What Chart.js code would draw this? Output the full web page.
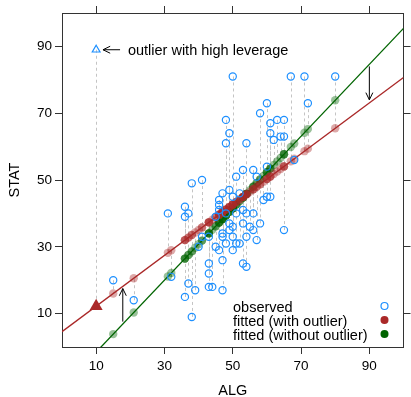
<!doctype html>
<html lang="en">
  <head>
    <meta charset="utf-8">
    <title>STAT vs ALG</title>
    <style>
      * { margin: 0; padding: 0; }
      body { background: #fff; width: 411px; height: 397px; overflow: hidden; }
      #chart { display: block; }
    </style>
  </head>
  <body>
    <canvas id="chart" width="411" height="397"></canvas>
    <script src="https://cdn.jsdelivr.net/npm/chart.js"></script>
    <script>
    // observed scores (without the outlier)
    const alg = [50, 67, 71, 80, 60, 72, 58, 48, 63, 65, 61, 49, 61, 64, 65, 62, 48, 54, 68, 60,
                 53, 56, 51, 57, 41, 38, 49, 47, 52, 50, 60, 61, 59, 46, 46, 36, 46, 53, 31, 37,
                 48, 51, 54, 56, 45, 36, 58, 53, 49, 55, 50, 56, 49, 65, 47, 41, 43, 47, 50, 54,
                 57, 52, 51, 48, 40, 45, 46, 50, 47, 43, 53, 54, 43, 32, 15, 37, 43, 44, 39, 47,
                 36, 21, 38];
    const stat = [81, 81, 81, 81, 73, 73, 70, 68, 68, 68, 67, 64, 64, 63, 63, 62, 61, 61, 56, 54,
                  53, 53, 51, 51, 50, 49, 47, 46, 46, 45, 45, 45, 44, 44, 42.5, 42, 41, 41, 40, 40,
                  40, 40, 40, 40, 39, 39, 37, 37, 37, 36, 36, 35, 35, 35, 34, 33, 33, 33, 33, 33,
                  32, 31, 31, 31, 30, 30, 29, 29, 26, 25, 25, 24, 22, 21, 20, 19, 18, 18, 17, 17,
                  15, 14, 9];
    // the high leverage point
    const outlierAlg = 10;
    const outlierStat = 89;
    // regression lines
    const fitWith = { a: 4.6, b: 0.761 };
    const fitWithout = { a: -12.3, b: 1.077 };
    const tickValues = [10, 30, 50, 70, 90];
    const legendLabels = ['observed', 'fitted (with outlier)', 'fitted (without outlier)'];

    const blue = '#1E90FF';
    const red = 'rgb(170,40,40)';
    const redFade = 'rgba(170,40,40,0.4)';
    const green = 'rgb(0,100,0)';
    const greenFade = 'rgba(0,100,0,0.4)';
    const axisColor = '#333';
    const font = '"Liberation Sans", Arial, sans-serif';

    const predict = (fit, x) => fit.a + fit.b * x;
    const observed = alg.map((x, i) => ({ x, y: stat[i] }));
    const fittedWith = alg.map(x => ({ x, y: predict(fitWith, x) }));
    const fittedWithout = alg.map(x => ({ x, y: predict(fitWithout, x) }));

    function arrow(ctx, x1, y1, x2, y2) {
      const ang = Math.atan2(y2 - y1, x2 - x1);
      const h = 8;
      ctx.beginPath();
      ctx.moveTo(x1, y1);
      ctx.lineTo(x2, y2);
      ctx.moveTo(x2 - h * Math.cos(ang - 0.45), y2 - h * Math.sin(ang - 0.45));
      ctx.lineTo(x2, y2);
      ctx.lineTo(x2 - h * Math.cos(ang + 0.45), y2 - h * Math.sin(ang + 0.45));
      ctx.stroke();
    }

    const extras = {
      id: 'extras',
      beforeDatasetsDraw(chart) {
        const { ctx, scales: { x, y }, chartArea } = chart;
        ctx.save();
        ctx.beginPath();
        ctx.rect(chartArea.left, chartArea.top, chartArea.width, chartArea.height);
        ctx.clip();
        ctx.strokeStyle = '#c4c4c4';
        ctx.lineWidth = 1;
        ctx.setLineDash([3, 3]);
        const segs = observed.concat([{ x: outlierAlg, y: outlierStat }]);
        segs.forEach(p => {
          const px = Math.round(x.getPixelForValue(p.x)) + 0.5;
          ctx.beginPath();
          ctx.moveTo(px, y.getPixelForValue(p.y));
          ctx.lineTo(px, y.getPixelForValue(predict(fitWith, p.x)));
          ctx.stroke();
        });
        ctx.restore();
      },
      afterDatasetsDraw(chart) {
        const { ctx, scales: { x, y }, chartArea } = chart;
        ctx.save();
        ctx.strokeStyle = '#000';
        ctx.lineWidth = 1;
        // arrows
        const oy = y.getPixelForValue(outlierStat);
        arrow(ctx, x.getPixelForValue(17), oy, x.getPixelForValue(12), oy);
        arrow(ctx, x.getPixelForValue(90), y.getPixelForValue(84), x.getPixelForValue(90), y.getPixelForValue(74));
        arrow(ctx, x.getPixelForValue(17.8), y.getPixelForValue(7.6), x.getPixelForValue(17.8), y.getPixelForValue(17.5));
        ctx.fillStyle = '#000';
        ctx.font = '14.5px ' + font;
        ctx.textBaseline = 'middle';
        ctx.fillText('outlier with high leverage', x.getPixelForValue(19.3), oy + 1);

        // legend
        const lx = chartArea.left + 171;
        const mx = chartArea.right - 19;
        const rows = [chartArea.bottom - 40, chartArea.bottom - 26, chartArea.bottom - 12];
        legendLabels.forEach((t, i) => ctx.fillText(t, lx, rows[i] + 1));
        ctx.beginPath();
        ctx.arc(mx, rows[0] - 1, 3.5, 0, Math.PI * 2);
        ctx.strokeStyle = blue;
        ctx.lineWidth = 1.2;
        ctx.stroke();
        ctx.fillStyle = red;
        ctx.beginPath();
        ctx.arc(mx, rows[1] - 1, 4, 0, Math.PI * 2);
        ctx.fill();
        ctx.fillStyle = green;
        ctx.beginPath();
        ctx.arc(mx, rows[2] - 1, 4, 0, Math.PI * 2);
        ctx.fill();

        // axis titles
        ctx.fillStyle = '#000';
        ctx.textAlign = 'center';
        ctx.fillText('ALG', (chartArea.left + chartArea.right) / 2, 391);
        ctx.translate(15, (chartArea.top + chartArea.bottom) / 2);
        ctx.rotate(-Math.PI / 2);
        ctx.fillText('STAT', 0, 0);
        ctx.restore();
      }
    };

    const setTicks = scale => { scale.ticks = tickValues.map(v => ({ value: v })); };
    const axis = (position, size, showLabels) => ({
      type: 'linear',
      position,
      min: 0,
      max: 100,
      afterBuildTicks: setTicks,
      afterFit: s => { if (s.isHorizontal()) s.height = size; else s.width = size; },
      border: { display: true, color: axisColor, width: 1 },
      grid: { display: true, drawOnChartArea: false, drawTicks: true, tickLength: 7, color: axisColor },
      ticks: {
        display: showLabels,
        padding: position === 'bottom' ? 4 : 3,
        color: '#000',
        font: { family: font, size: 13.5 },
        maxRotation: 0
      }
    });

    const config = {
      type: 'scatter',
      data: {
        datasets: [
          {
            label: 'line with',
            type: 'line',
            data: [0, 100].map(v => ({ x: v, y: predict(fitWith, v) })),
            borderColor: red, borderWidth: 1.3, pointRadius: 0, clip: 0, order: 5
          },
          {
            label: 'line without',
            type: 'line',
            data: [0, 100].map(v => ({ x: v, y: predict(fitWithout, v) })),
            borderColor: green, borderWidth: 1.3, pointRadius: 0, clip: 0, order: 5
          },
          {
            label: 'fitted (with outlier)',
            data: fittedWith,
            backgroundColor: redFade, borderWidth: 0, pointRadius: 4.2, order: 4
          },
          {
            label: 'fitted (without outlier)',
            data: fittedWithout,
            backgroundColor: greenFade, borderWidth: 0, pointRadius: 4.2, order: 4
          },
          {
            label: 'outlier fitted',
            data: [{ x: outlierAlg, y: predict(fitWith, outlierAlg) }],
            pointStyle: 'triangle', backgroundColor: red, borderColor: red, borderWidth: 0,
            pointRadius: 7.5, order: 3
          },
          {
            label: 'observed',
            data: observed,
            backgroundColor: 'rgba(0,0,0,0)', borderColor: blue, borderWidth: 1.2,
            pointRadius: 3.6, order: 2
          },
          {
            label: 'outlier',
            data: [{ x: outlierAlg, y: outlierStat }],
            pointStyle: 'triangle', backgroundColor: 'rgba(0,0,0,0)', borderColor: blue,
            borderWidth: 1.2, pointRadius: 4.5, order: 1
          }
        ]
      },
      options: {
        responsive: false,
        animation: false,
        layout: { padding: 0 },
        plugins: { legend: { display: false }, tooltip: { enabled: false } },
        scales: {
          x: axis('bottom', 50, true),
          y: axis('left', 62, true),
          x2: axis('top', 13, false),
          y2: axis('right', 4, false)
        }
      },
      plugins: [extras]
    };

    const myChart = new Chart(document.getElementById('chart'), config);
    </script>
  </body>
</html>
